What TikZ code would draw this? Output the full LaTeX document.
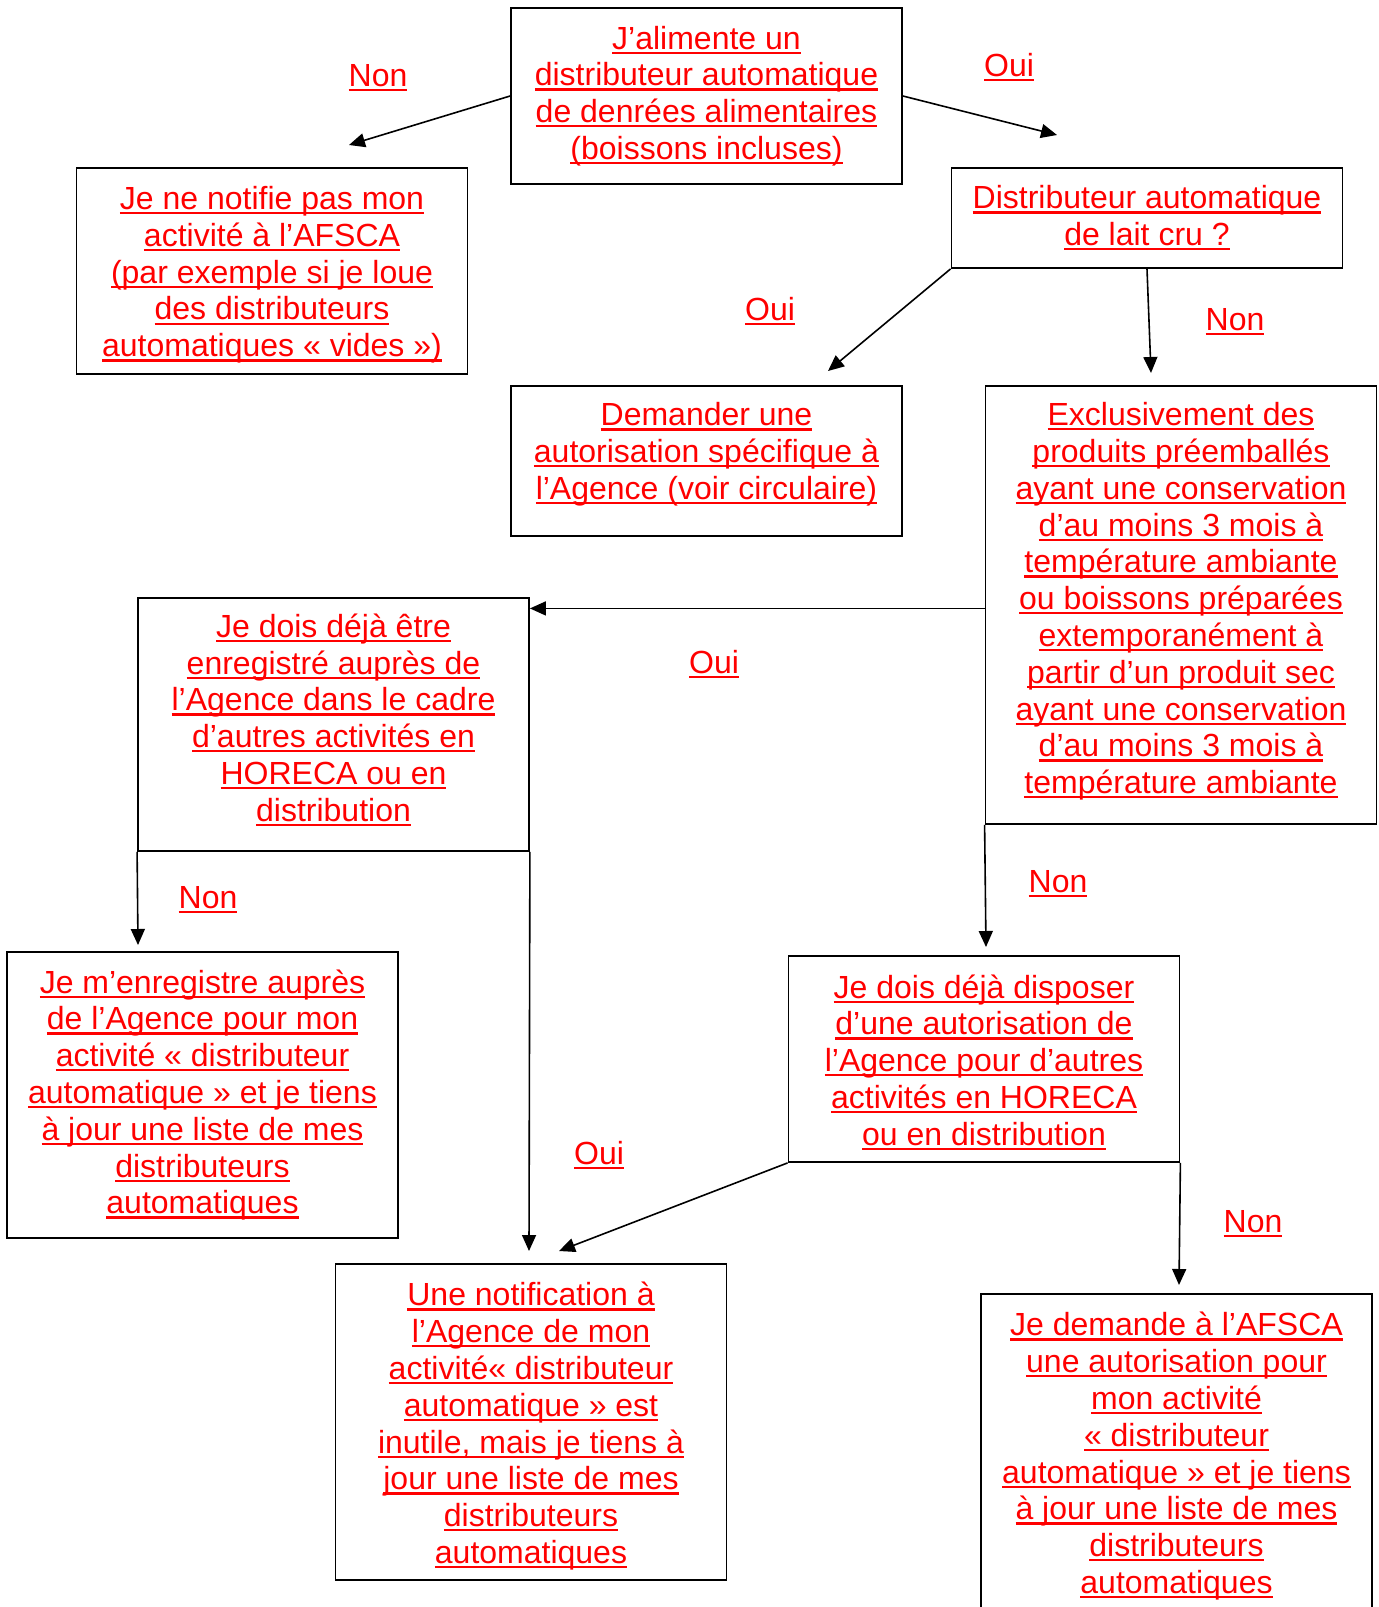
\documentclass[tikz,border=0pt]{standalone}
\usepackage{fontspec}
\setmainfont{Liberation Sans}
\usetikzlibrary{arrows.meta}
\newsavebox\ulinebox
\newcommand\uln[1]{\leavevmode\sbox\ulinebox{\spaceskip=0pt\xspaceskip=0pt\relax#1}\rlap{\rule[-2.4pt]{\wd\ulinebox}{1.1pt}}\usebox\ulinebox}
\newcommand\padtop[1]{\rule{0pt}{#1}}
\newcommand\padbot[1]{\rule[-#1]{0pt}{#1}}
\begin{document}
\begin{tikzpicture}[x=0.5pt,y=-0.5pt,
    box/.style={draw,line width=0.9pt,minimum width=195.5pt,text width=190pt,
      inner xsep=2pt,align=center,text=red,font=\fontsize{16}{18.4}\selectfont},
    lbl/.style={text=red,font=\fontsize{16}{18.4}\selectfont},
    arr/.style={line width=0.8pt,-{Triangle[length=8pt,width=7pt]}}]
      \useasboundingbox (0,0) rectangle (1379,1607);
      \node[box,minimum height=88pt] (start) at (706.5,96)
        {\uln{J’alimente un}\\\uln{distributeur automatique}\\\uln{de denrées alimentaires}\\\uln{(boissons incluses)}};
      \node[box,minimum height=103pt] (nonotif) at (272,271)
        {\padtop{15.5pt}\uln{Je ne notifie pas mon}\\\uln{activité à l’AFSCA}\\\uln{(par exemple si je loue}\\\uln{des distributeurs}\\\uln{automatiques « vides »)}};
      \node[box,minimum height=50pt] (laitcru) at (1147,218)
        {\uln{Distributeur automatique}\\\uln{de lait cru ?}};
      \node[box,minimum height=75pt] (specif) at (706.5,461)
        {\uln{Demander une}\\\uln{autorisation spécifique à}\\\uln{l’Agence (voir circulaire)}\padbot{10pt}};
      \node[box,minimum height=219pt] (exclusif) at (1181,605)
        {\uln{Exclusivement des}\\\uln{produits préemballés}\\\uln{ayant une conservation}\\\uln{d’au moins 3 mois à}\\\uln{température ambiante}\\\uln{ou boissons préparées}\\\uln{extemporanément à}\\\uln{partir d’un produit sec}\\\uln{ayant une conservation}\\\uln{d’au moins 3 mois à}\\\uln{température ambiante}\padbot{7pt}};
      \node[box,minimum height=126.5pt] (enreg) at (333.5,724.5)
        {\uln{Je dois déjà être}\\\uln{enregistré auprès de}\\\uln{l’Agence dans le cadre}\\\uln{d’autres activités en}\\\uln{HORECA ou en}\\\uln{distribution}\padbot{7pt}};
      \node[box,minimum height=143pt] (menreg) at (202.5,1095)
        {\uln{Je m’enregistre auprès}\\\uln{de l’Agence pour mon}\\\uln{activité « distributeur}\\\uln{automatique » et je tiens}\\\uln{à jour une liste de mes}\\\uln{distributeurs}\\\uln{automatiques}};
      \node[box,minimum height=103pt] (autoris) at (984,1059)
        {\padtop{15pt}\uln{Je dois déjà disposer}\\\uln{d’une autorisation de}\\\uln{l’Agence pour d’autres}\\\uln{activités en HORECA}\\\uln{ou en distribution}};
      \node[box,minimum height=158pt] (inutile) at (531,1422)
        {\padtop{16pt}\uln{Une notification à}\\\uln{l’Agence de mon}\\\uln{activité« distributeur}\\\uln{automatique » est}\\\uln{inutile, mais je tiens à}\\\uln{jour une liste de mes}\\\uln{distributeurs}\\\uln{automatiques}};
      \node[box,minimum height=158pt] (demafsca) at (1176.5,1452)
        {\padtop{16pt}\uln{Je demande à l’AFSCA}\\\uln{une autorisation pour}\\\uln{mon activité}\\\uln{« distributeur}\\\uln{automatique » et je tiens}\\\uln{à jour une liste de mes}\\\uln{distributeurs}\\\uln{automatiques}};
      \coordinate (endnon) at (349,145);
      \coordinate (endoui) at (1057,135);
      \coordinate (endlait) at (828,371);
      \coordinate (endnonlait) at (1151,373);
      \coordinate (endexcl) at (986,947);
      \coordinate (endenreg) at (138,945);
      \coordinate (endouienreg) at (529,1251);
      \coordinate (endouiaut) at (559,1251);
      \coordinate (endnonaut) at (1179,1285);
      \draw[arr] (start.west) -- (endnon);
      \draw[arr] (start.east) -- (endoui);
      \draw[arr] (laitcru.south west) -- (endlait);
      \draw[arr] (laitcru.south) -- (endnonlait);
      \draw[arr] (exclusif.181.5) -- (exclusif.181.5 -| enreg.east);
      \draw[arr] (exclusif.south west) -- (endexcl);
      \draw[arr] (enreg.south west) -- (endenreg);
      \draw[arr] (enreg.south east) -- (endouienreg);
      \draw[arr] (autoris.south west) -- (endouiaut);
      \draw[arr] (autoris.south east) -- (endnonaut);
      \node[lbl] (non1) at (378,78) {\uln{Non}};
      \node[lbl] (oui2) at (1009,67) {\uln{Oui}};
      \node[lbl] (oui3) at (770,311) {\uln{Oui}};
      \node[lbl] (non4) at (1235,322) {\uln{Non}};
      \node[lbl] (oui5) at (714,664) {\uln{Oui}};
      \node[lbl] (non6) at (1058,884) {\uln{Non}};
      \node[lbl] (non7) at (208,900) {\uln{Non}};
      \node[lbl] (oui9) at (599,1155) {\uln{Oui}};
      \node[lbl] (non10) at (1253,1224) {\uln{Non}};
    \end{tikzpicture}
\end{document}
